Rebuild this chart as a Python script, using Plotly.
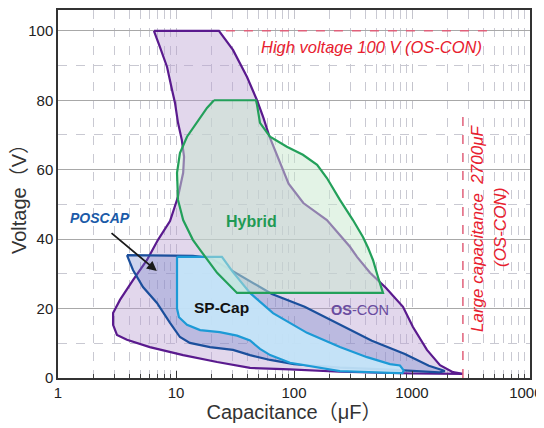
import numpy as np
import plotly.graph_objects as go

# ---------------- data (capacitance uF, voltage V) ----------------
oscon_cap = [6.5, 23.1, 30.4, 40.0, 48.6, 55.0, 62.0, 72.0, 90.0, 120.0, 190.0, 298.0, 342.0, 441.0,
             600.0, 839.0, 1019.0, 1339.0, 1727.0, 2224.0, 2700.0,
             1000.0, 245.0, 92.5, 42.4, 22.3, 11.5, 6.0, 3.84, 3.16, 2.93, 2.93, 3.35, 4.32, 5.68,
             7.04, 8.9, 10.4, 11.5, 11.7, 11.2, 10.4, 9.8, 9.25, 8.4, 7.3, 6.5]
oscon_volt = [100.0, 100.0, 94.5, 86.7, 80.0, 75.0, 69.5, 64.0, 56.0, 50.4, 45.5, 37.8, 34.9, 30.3,
              26.0, 20.5, 14.7, 8.1, 3.7, 1.7, 1.2,
              1.3, 1.8, 2.5, 2.9, 4.6, 6.6, 8.9, 11.0, 12.4, 15.3, 18.7, 22.5, 28.2, 34.0,
              39.8, 45.2, 52.2, 59.1, 63.7, 68.6, 73.5, 79.3, 83.0, 89.6, 95.4, 100.0]

hybrid_cap = [21.0, 47.6, 48.6, 51.5, 62.6, 76.0, 87.0, 119.0, 157.0, 190.0, 245.0, 316.0, 384.0,
              424.0, 467.0, 515.0, 568.0, 32.9, 22.3, 16.0, 13.9, 11.5, 10.4, 10.2, 10.8, 12.4,
              15.1, 18.3, 21.0]
hybrid_volt = [80.0, 80.0, 78.7, 73.5, 69.5, 67.7, 66.6, 64.3, 61.4, 57.6, 51.3, 45.5, 40.6,
               37.5, 34.0, 29.1, 24.5, 24.5, 30.3, 36.9, 39.8, 45.5, 51.3, 59.1, 64.8, 69.5,
               73.8, 77.8, 80.0]

poscap_cap = [3.84, 13.9, 19.4, 30.4, 65.0, 123.0, 240.0, 457.0, 870.0, 1390.0, 1690.0, 1900.0,
              1690.0, 651.0, 245.0, 100.0, 62.8, 42.4, 30.4, 19.4, 13.1, 10.8, 8.9, 6.9, 5.25,
              4.32, 3.84]
poscap_volt = [35.4, 35.2, 34.6, 30.8, 24.2, 20.5, 15.6, 10.7, 6.9, 3.5, 2.6, 2.0,
               1.6, 2.4, 3.0, 4.0, 5.2, 6.6, 8.1, 8.9, 10.1, 11.8, 15.9, 21.6, 26.2,
               31.1, 35.4]

spcap_cap = [10.2, 24.5, 30.4, 42.4, 66.4, 129.0, 245.0, 416.0, 651.0, 791.0, 850.0, 830.0,
             651.0, 245.0, 92.5, 62.8, 51.5, 42.4, 32.9, 23.5, 16.0, 12.4, 10.6, 10.2, 10.2]
spcap_volt = [34.9, 34.9, 30.5, 24.5, 18.7, 13.0, 8.9, 6.0, 4.0, 3.6, 2.2, 1.4,
              1.5, 2.0, 4.4, 6.6, 8.4, 10.8, 12.2, 13.2, 13.8, 15.3, 17.5, 20.0, 34.9]

high_voltage = 100.0          # V  (OS-CON)
high_voltage_span = [26.5, 5050.0]
large_cap = 2700.0            # uF (OS-CON)
large_cap_span = [0.0, 76.4]

x_tickvals = [1, 10, 100, 1000, 10000]
x_ticktext = ["1", "10", "100", "1000", "10000"]
x_minor_vals = [m * 10 ** d for d in range(4) for m in range(2, 10)]
y_tickvals = [0, 20, 40, 60, 80, 100]

# ---------------- figure ----------------
fig = go.Figure()

def region(xs, ys, line_color, fill_color, width=2.2):
    fig.add_trace(go.Scatter(x=xs, y=ys, mode="lines", fill="toself",
                             fillcolor=fill_color,
                             line=dict(color=line_color, width=width),
                             hoverinfo="skip", showlegend=False))

region(oscon_cap, oscon_volt, "#5a1a8e", "rgba(185,160,210,0.42)")
region(poscap_cap, poscap_volt, "#1b4f9c", "rgba(105,125,200,0.32)")
region(spcap_cap, spcap_volt, "#1c9ad6", "rgba(196,229,248,0.92)")
region(hybrid_cap, hybrid_volt, "#23a05a", "rgba(200,232,205,0.5)")

red = "#e8202e"
fig.add_trace(go.Scatter(x=high_voltage_span, y=[high_voltage, high_voltage], mode="lines",
                         line=dict(color="#e0607a", width=1.5, dash="dash"),
                         hoverinfo="skip", showlegend=False))
fig.add_trace(go.Scatter(x=[large_cap, large_cap], y=large_cap_span, mode="lines",
                         line=dict(color="#e0607a", width=1.5, dash="dash"),
                         hoverinfo="skip", showlegend=False))

L = np.log10
base_font = "Liberation Sans, Arial, sans-serif"
title_font = "Liberation Sans, Noto Sans CJK JP, sans-serif"
ann = [
    dict(x=L(458), y=95.4, text="<i>High voltage 100 V (OS-CON)</i>",
         font=dict(color=red, size=16.5, family=base_font)),
    dict(x=L(3556), y=43.2, text="<i>Large capacitance  2700μF</i>", textangle=-90,
         font=dict(color=red, size=17, family=base_font)),
    dict(x=L(5570), y=43.2, text="<i>(OS-CON)</i>", textangle=-90,
         font=dict(color=red, size=17, family=base_font)),
    dict(x=L(2.27), y=46.1, text="<b><i>POSCAP</i></b>",
         font=dict(color="#1a5aa8", size=14, family=base_font)),
    dict(x=L(44), y=45.0, text="<b>Hybrid</b>",
         font=dict(color="#1f9a55", size=16, family=base_font)),
    dict(x=L(24.5), y=20.2, text="<b>SP-Cap</b>",
         font=dict(color="#111111", size=15.5, family=base_font)),
    dict(x=L(362), y=19.6, text="<b>OS</b>-CON",
         font=dict(color="#6a4ca0", size=14.5, family=base_font)),
]
for a in ann:
    a.update(xref="x", yref="y", showarrow=False)
    fig.add_annotation(**a)

fig.add_annotation(x=L(6.88), y=30.8, ax=L(2.76), ay=42.1, xref="x", yref="y",
                   axref="x", ayref="y", text="", showarrow=True,
                   arrowhead=2, arrowsize=1.1, arrowwidth=1.8, arrowcolor="#1a1a1a")

# the page adds an 8 px body margin, so the figure is sized to fit inside the window
fig.update_layout(
    width=536, height=420,
    margin=dict(l=50, r=14, t=2, b=50),
    paper_bgcolor="white", plot_bgcolor="white",
    font=dict(family=base_font, color="#222222", size=15),
    showlegend=False,
)
fig.update_xaxes(
    type="log", range=[0, 4], automargin=False,
    tickmode="array", tickvals=x_tickvals, ticktext=x_ticktext,
    ticklabeloverflow="allow",
    showgrid=True, gridcolor="#c4c4cc", griddash="dash", gridwidth=1,
    showline=True, linecolor="#333333", linewidth=1.5, mirror=True,
    ticks="inside", ticklen=7, tickcolor="#333333",
    minor=dict(tickmode="array", tickvals=x_minor_vals,
               showgrid=True, gridcolor="#c9c9d2", griddash="dash", gridwidth=1,
               ticks="inside", ticklen=4, tickcolor="#444444"),
    title=dict(text="Capacitance（μF）", font=dict(size=20, color="#333333", family=title_font),
               standoff=2),
    tickfont=dict(size=15, color="#222222"),
    zeroline=False,
)
fig.update_yaxes(
    range=[0, 106], tickvals=y_tickvals, automargin=False,
    showgrid=True, gridcolor="#a8a8a8", gridwidth=1.3,
    showline=True, linecolor="#333333", linewidth=1.5, mirror=True,
    ticks="",
    minor=dict(dtick=10, showgrid=True, gridcolor="#c9c9d2", griddash="dash", gridwidth=1),
    title=dict(text="Voltage（V）", font=dict(size=20, color="#333333", family=title_font),
               standoff=2),
    tickfont=dict(size=15, color="#222222"),
    zeroline=False,
)

fig.write_html("out.html")
